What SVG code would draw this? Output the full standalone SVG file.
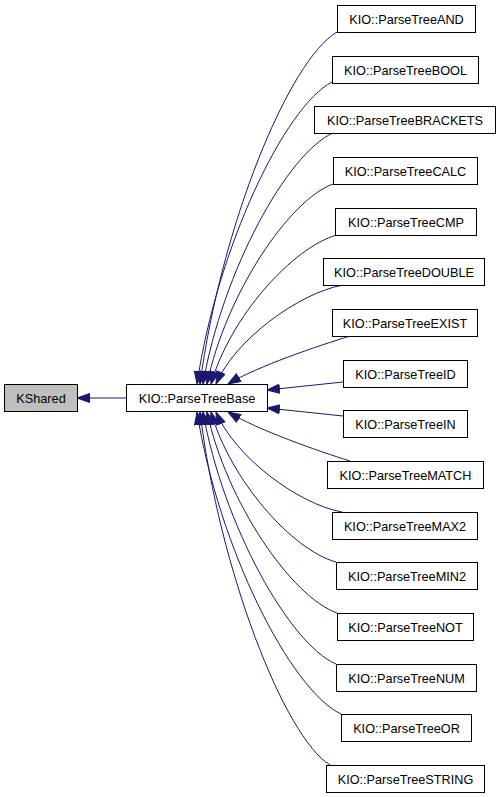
<svg xmlns="http://www.w3.org/2000/svg" width="501" height="797" viewBox="0 0 501 797">
<style>
.n rect{fill:#fff;stroke:#000;stroke-width:1}
.n text{font-family:"Liberation Sans",Arial,sans-serif;font-size:12.7px;text-anchor:middle;fill:#000}
#kshared rect{fill:#bfbfbf}
.e path{fill:none;stroke:#191970;stroke-width:1;marker-end:url(#ah)}
</style>
<defs>
<marker id="ah" markerUnits="userSpaceOnUse" markerWidth="15" markerHeight="12" refX="13" refY="5" orient="auto">
<path d="M0.5,0.5 L13,5 L0.5,9.5 z" fill="#191970" stroke="#191970" stroke-width="1"/>
</marker>
</defs>
<g id="edges" class="e">
<path d="M126,398 L77,398"/>
<path d="M337,32 C289,60 221,226 200,384"/>
<path d="M332,82 C285,106 217,248 197,384"/>
<path d="M333,133 C287.5,153 222.5,271 203,384"/>
<path d="M333,184 C289,200 226,294 207,384"/>
<path d="M337,235 C293,247 230,317 211,384"/>
<path d="M343,285 C299,293 235,339.5 216,384"/>
<path d="M350,336 C318,346 258,366 228,384"/>
<path d="M343,382 L267,390"/>
<path d="M343,416 L267,408"/>
<path d="M350,461 C318,451 258,430 228,412"/>
<path d="M342,512 C298,504 235,457 216,412"/>
<path d="M336,562 C292,550 230,479.5 211,412"/>
<path d="M337,613 C291.5,597 226.5,502 207,412"/>
<path d="M336,664 C289.5,644 223,525 203,412"/>
<path d="M341,714 C290.6,690 218.6,548 197,412"/>
<path d="M330,765 C284.5,737 219.5,571 200,412"/>
</g>
<g id="kshared" class="n"><rect x="4.5" y="384.5" width="73" height="27"/><text x="41" y="402.5">KShared</text></g>
<g id="base" class="n"><rect x="126.5" y="384.5" width="141" height="27"/><text x="197" y="402.5">KIO::ParseTreeBase</text></g>
<g id="and" class="n"><rect x="337.5" y="5.5" width="138" height="27"/><text x="406.5" y="23.5">KIO::ParseTreeAND</text></g>
<g id="bool" class="n"><rect x="332.5" y="56.5" width="146" height="27"/><text x="405.5" y="74.5">KIO::ParseTreeBOOL</text></g>
<g id="brackets" class="n"><rect x="314.5" y="106.5" width="181" height="27"/><text x="405" y="124.5">KIO::ParseTreeBRACKETS</text></g>
<g id="calc" class="n"><rect x="333.5" y="157.5" width="144" height="27"/><text x="405.5" y="175.5">KIO::ParseTreeCALC</text></g>
<g id="cmp" class="n"><rect x="335.5" y="208.5" width="141" height="27"/><text x="406" y="226.5">KIO::ParseTreeCMP</text></g>
<g id="double" class="n"><rect x="323.5" y="258.5" width="161" height="27"/><text x="404" y="276.5">KIO::ParseTreeDOUBLE</text></g>
<g id="exist" class="n"><rect x="332.5" y="309.5" width="145" height="27"/><text x="405" y="327.5">KIO::ParseTreeEXIST</text></g>
<g id="id" class="n"><rect x="343.5" y="360.5" width="124" height="27"/><text x="405.5" y="378.5">KIO::ParseTreeID</text></g>
<g id="in" class="n"><rect x="343.5" y="410.5" width="124" height="27"/><text x="405.5" y="428.5">KIO::ParseTreeIN</text></g>
<g id="match" class="n"><rect x="327.5" y="461.5" width="156" height="27"/><text x="405.5" y="479.5">KIO::ParseTreeMATCH</text></g>
<g id="max2" class="n"><rect x="332.5" y="512.5" width="145" height="27"/><text x="405" y="530.5">KIO::ParseTreeMAX2</text></g>
<g id="min2" class="n"><rect x="336.5" y="562.5" width="141" height="27"/><text x="407" y="580.5">KIO::ParseTreeMIN2</text></g>
<g id="not" class="n"><rect x="337.5" y="613.5" width="136" height="27"/><text x="405.5" y="631.5">KIO::ParseTreeNOT</text></g>
<g id="num" class="n"><rect x="336.5" y="664.5" width="140" height="27"/><text x="406.5" y="682.5">KIO::ParseTreeNUM</text></g>
<g id="or" class="n"><rect x="341.5" y="714.5" width="130" height="27"/><text x="406.5" y="732.5">KIO::ParseTreeOR</text></g>
<g id="string" class="n"><rect x="326.5" y="765.5" width="158" height="27"/><text x="405.5" y="783.5">KIO::ParseTreeSTRING</text></g>
</svg>
